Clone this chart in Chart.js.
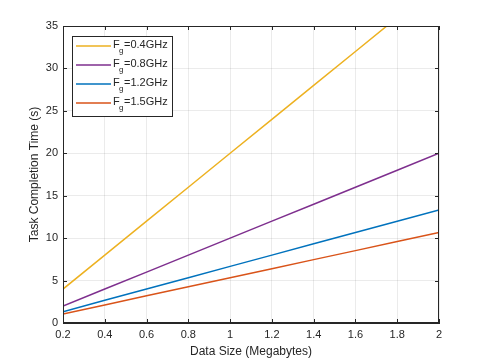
<!DOCTYPE html>
<html>
<head>
<meta charset="utf-8">
<script src="https://cdn.jsdelivr.net/npm/chart.js@4"></script>
<style>
  html, body { margin: 0; padding: 0; background: #fff; }
  canvas { display: block; }
</style>
</head>
<body>
<canvas id="taskChart" width="485" height="363"></canvas>
<script>
// data
const dataSizes = [0.2, 0.4, 0.6, 0.8, 1.0, 1.2, 1.4, 1.6, 1.8, 2.0];
const freqLabels = ['0.4GHz', '0.8GHz', '1.2GHz', '1.5GHz'];
const time04 = [4, 8, 12, 16, 20, 24, 28, 32, 36, 40];
const time08 = [2, 4, 6, 8, 10, 12, 14, 16, 18, 20];
const time12 = [1.33, 2.67, 4, 5.33, 6.67, 8, 9.33, 10.67, 12, 13.33];
const time15 = [1.07, 2.13, 3.2, 4.27, 5.33, 6.4, 7.47, 8.53, 9.6, 10.67];
const xTicks = [0.2, 0.4, 0.6, 0.8, 1, 1.2, 1.4, 1.6, 1.8, 2];
const xTickLabels = ['0.2', '0.4', '0.6', '0.8', '1', '1.2', '1.4', '1.6', '1.8', '2'];
const yTicks = [0, 5, 10, 15, 20, 25, 30, 35];

const colors = ['#EDB120', '#7E2F8E', '#0072BD', '#D95319'];
const series = [time04, time08, time12, time15];
const axisColor = '#262626';
const font = 'Liberation Sans, Arial, Helvetica, sans-serif';

const datasets = series.map((vals, i) => ({
    label: 'Fg=' + freqLabels[i],
    data: vals.map((v, j) => ({ x: dataSizes[j], y: v })),
    borderColor: colors[i],
    backgroundColor: colors[i],
    borderWidth: 1.5,
    pointRadius: 0,
    tension: 0
}));

// MATLAB-style box, inward ticks and the legend with subscript
const boxPlugin = {
    id: 'matlabBox',
    afterDraw(chart) {
        const ctx = chart.ctx;
        const a = chart.chartArea;
        const xs = chart.scales.x, ys = chart.scales.y;
        ctx.save();
        ctx.strokeStyle = axisColor;
        ctx.lineWidth = 1;
        ctx.strokeRect(a.left + 0.5, a.top + 0.5, a.right - a.left - 1, a.bottom - a.top - 1);
        ctx.beginPath();
        xTicks.forEach(v => {
            const px = Math.round(xs.getPixelForValue(v)) + 0.5;
            ctx.moveTo(px, a.bottom); ctx.lineTo(px, a.bottom - 4);
            ctx.moveTo(px, a.top); ctx.lineTo(px, a.top + 4);
        });
        yTicks.forEach(v => {
            const py = Math.round(ys.getPixelForValue(v)) + 0.5;
            ctx.moveTo(a.left, py); ctx.lineTo(a.left + 4, py);
            ctx.moveTo(a.right, py); ctx.lineTo(a.right - 4, py);
        });
        ctx.stroke();

        // legend
        const lx = 72, ly = 36, lw = 100, lh = 80;
        ctx.fillStyle = '#fff';
        ctx.fillRect(lx, ly, lw, lh);
        ctx.strokeStyle = axisColor;
        ctx.strokeRect(lx + 0.5, ly + 0.5, lw, lh);
        freqLabels.forEach((lab, i) => {
            const cy = ly + 10 + i * 19;
            ctx.strokeStyle = colors[i];
            ctx.lineWidth = 1.5;
            ctx.beginPath();
            ctx.moveTo(76, cy); ctx.lineTo(111, cy);
            ctx.stroke();
            ctx.fillStyle = axisColor;
            ctx.textBaseline = 'middle';
            ctx.textAlign = 'left';
            ctx.font = '11px ' + font;
            ctx.fillText('F', 113, cy - 1);
            ctx.font = '8px ' + font;
            ctx.fillText('g', 119, cy + 5);
            ctx.font = '11px ' + font;
            ctx.fillText('=' + lab, 124, cy - 1);
        });
        ctx.restore();
    }
};

new Chart(document.getElementById('taskChart').getContext('2d'), {
    type: 'line',
    data: { datasets: datasets },
    options: {
        responsive: false,
        animation: false,
        layout: { padding: { top: 26, right: 46, left: 27, bottom: 0 } },
        plugins: { legend: { display: false }, tooltip: { enabled: false } },
        scales: {
            x: {
                type: 'linear',
                min: 0.2,
                max: 2,
                afterBuildTicks: s => { s.ticks = xTicks.map(v => ({ value: v })); },
                afterFit: s => { s.height = 40; },
                ticks: {
                    color: axisColor,
                    font: { family: font, size: 11 },
                    padding: 5,
                    maxRotation: 0,
                    callback: (v, i) => xTickLabels[i]
                },
                grid: { color: 'rgba(0,0,0,0.08)', drawTicks: false },
                border: { color: axisColor },
                title: {
                    display: true,
                    text: 'Data Size (Megabytes)',
                    color: axisColor,
                    font: { family: font, size: 12 },
                    padding: { top: 2, bottom: 4 }
                }
            },
            y: {
                min: 0,
                max: 35,
                afterBuildTicks: s => { s.ticks = yTicks.map(v => ({ value: v })); },
                afterFit: s => { s.width = 36; },
                ticks: {
                    color: axisColor,
                    font: { family: font, size: 11 },
                    padding: 5
                },
                grid: { color: 'rgba(0,0,0,0.08)', drawTicks: false },
                border: { color: axisColor },
                title: {
                    display: true,
                    text: 'Task Completion Time (s)',
                    color: axisColor,
                    font: { family: font, size: 12 },
                    padding: { top: 0, bottom: 4 }
                }
            }
        }
    },
    plugins: [boxPlugin]
});
</script>
</body>
</html>
